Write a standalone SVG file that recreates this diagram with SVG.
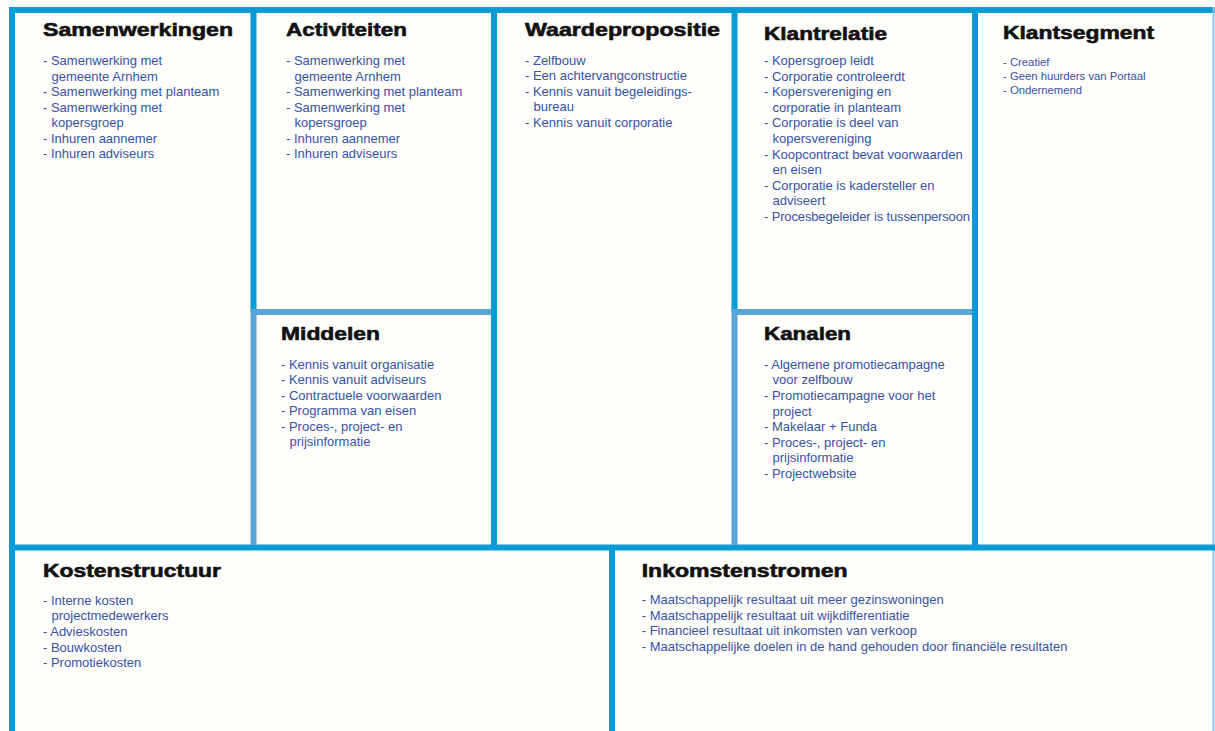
<svg xmlns="http://www.w3.org/2000/svg" width="1215" height="731" viewBox="0 0 1215 731">
<style>
.bg{fill:#fdfdfa}
.d{stroke:#0a9bd6;stroke-width:6;fill:none}
.l{stroke:#5ba5d6;stroke-width:6;fill:none}
.t{font-family:"Liberation Sans",Arial,sans-serif;font-weight:bold;font-size:19px;fill:#111;stroke:#111;stroke-width:0.6px}
.b{font-family:"Liberation Sans",Arial,sans-serif;font-size:13px;fill:#3853a3}
.s{font-family:"Liberation Sans",Arial,sans-serif;font-size:11.3px;fill:#3853a3}
</style>
<rect class="bg" x="0" y="0" width="1215" height="731"/>
<g id="frame">
<line class="d" x1="9" y1="10" x2="1215" y2="10"/>
<line class="d" x1="12" y1="7" x2="12" y2="731"/>
<line stroke="#8cc8e8" stroke-width="2" x1="1213.5" y1="7" x2="1213.5" y2="731"/>
<line class="d" x1="9" y1="547.5" x2="1215" y2="547.5"/>
<line class="d" x1="253.5" y1="7" x2="253.5" y2="312"/>
<line class="l" x1="253.5" y1="309" x2="253.5" y2="545"/>
<line class="l" x1="253.5" y1="312" x2="492" y2="312"/>
<line class="d" x1="494" y1="7" x2="494" y2="545"/>
<line class="d" x1="734.5" y1="7" x2="734.5" y2="312"/>
<line class="l" x1="734.5" y1="309" x2="734.5" y2="545"/>
<line class="l" x1="734.5" y1="312" x2="972" y2="312"/>
<line class="d" x1="975" y1="7" x2="975" y2="545"/>
<line class="d" x1="612" y1="545" x2="612" y2="731"/>
</g>
<g id="samenwerkingen">
<text class="t" x="43" y="36" textLength="190" lengthAdjust="spacingAndGlyphs">Samenwerkingen</text>
<text class="b" x="43" y="65">- Samenwerking met</text>
<text class="b" x="51.5" y="80.5">gemeente Arnhem</text>
<text class="b" x="43" y="96">- Samenwerking met planteam</text>
<text class="b" x="43" y="111.5">- Samenwerking met</text>
<text class="b" x="51.5" y="127">kopersgroep</text>
<text class="b" x="43" y="142.5">- Inhuren aannemer</text>
<text class="b" x="43" y="158">- Inhuren adviseurs</text>
</g>
<g id="activiteiten">
<text class="t" x="286" y="36" textLength="121" lengthAdjust="spacingAndGlyphs">Activiteiten</text>
<text class="b" x="286" y="65">- Samenwerking met</text>
<text class="b" x="294.5" y="80.5">gemeente Arnhem</text>
<text class="b" x="286" y="96">- Samenwerking met planteam</text>
<text class="b" x="286" y="111.5">- Samenwerking met</text>
<text class="b" x="294.5" y="127">kopersgroep</text>
<text class="b" x="286" y="142.5">- Inhuren aannemer</text>
<text class="b" x="286" y="158">- Inhuren adviseurs</text>
</g>
<g id="middelen">
<text class="t" x="281" y="340" textLength="99" lengthAdjust="spacingAndGlyphs">Middelen</text>
<text class="b" x="281" y="368.5">- Kennis vanuit organisatie</text>
<text class="b" x="281" y="384">- Kennis vanuit adviseurs</text>
<text class="b" x="281" y="399.6">- Contractuele voorwaarden</text>
<text class="b" x="281" y="415.2">- Programma van eisen</text>
<text class="b" x="281" y="430.8">- Proces-, project- en</text>
<text class="b" x="289.5" y="446.4">prijsinformatie</text>
</g>
<g id="waardepropositie">
<text class="t" x="525" y="36" textLength="195" lengthAdjust="spacingAndGlyphs">Waardepropositie</text>
<text class="b" x="525" y="64.5">- Zelfbouw</text>
<text class="b" x="525" y="80">- Een achtervangconstructie</text>
<text class="b" x="525" y="95.5">- Kennis vanuit begeleidings-</text>
<text class="b" x="533.5" y="111">bureau</text>
<text class="b" x="525" y="126.5">- Kennis vanuit corporatie</text>
</g>
<g id="klantrelatie">
<text class="t" x="764" y="39.5" textLength="123" lengthAdjust="spacingAndGlyphs">Klantrelatie</text>
<text class="b" x="764" y="65">- Kopersgroep leidt</text>
<text class="b" x="764" y="80.6">- Corporatie controleerdt</text>
<text class="b" x="764" y="96.2">- Kopersvereniging en</text>
<text class="b" x="772.5" y="111.8">corporatie in planteam</text>
<text class="b" x="764" y="127.4">- Corporatie is deel van</text>
<text class="b" x="772.5" y="143">kopersvereniging</text>
<text class="b" x="764" y="158.6">- Koopcontract bevat voorwaarden</text>
<text class="b" x="772.5" y="174.2">en eisen</text>
<text class="b" x="764" y="189.8">- Corporatie is kadersteller en</text>
<text class="b" x="772.5" y="205.4">adviseert</text>
<text class="b" x="764" y="221" textLength="206">- Procesbegeleider is tussenpersoon</text>
</g>
<g id="kanalen">
<text class="t" x="764" y="340" textLength="87" lengthAdjust="spacingAndGlyphs">Kanalen</text>
<text class="b" x="764" y="368.8">- Algemene promotiecampagne</text>
<text class="b" x="772.5" y="384.4">voor zelfbouw</text>
<text class="b" x="764" y="400">- Promotiecampagne voor het</text>
<text class="b" x="772.5" y="415.6">project</text>
<text class="b" x="764" y="431.2">- Makelaar + Funda</text>
<text class="b" x="764" y="446.8">- Proces-, project- en</text>
<text class="b" x="772.5" y="462.4">prijsinformatie</text>
<text class="b" x="764" y="478">- Projectwebsite</text>
</g>
<g id="klantsegment">
<text class="t" x="1003" y="38.5" textLength="151" lengthAdjust="spacingAndGlyphs">Klantsegment</text>
<text class="s" x="1003" y="66">- Creatief</text>
<text class="s" x="1003" y="80">- Geen huurders van Portaal</text>
<text class="s" x="1003" y="94">- Ondernemend</text>
</g>
<g id="kostenstructuur">
<text class="t" x="43" y="577" textLength="178" lengthAdjust="spacingAndGlyphs">Kostenstructuur</text>
<text class="b" x="43" y="604.5">- Interne kosten</text>
<text class="b" x="51.5" y="620.2">projectmedewerkers</text>
<text class="b" x="43" y="635.9">- Advieskosten</text>
<text class="b" x="43" y="651.6">- Bouwkosten</text>
<text class="b" x="43" y="667.3">- Promotiekosten</text>
</g>
<g id="inkomstenstromen">
<text class="t" x="641.7" y="577.3" textLength="206" lengthAdjust="spacingAndGlyphs">Inkomstenstromen</text>
<text class="b" x="641.7" y="604">- Maatschappelijk resultaat uit meer gezinswoningen</text>
<text class="b" x="641.7" y="619.6">- Maatschappelijk resultaat uit wijkdifferentiatie</text>
<text class="b" x="641.7" y="635.2">- Financieel resultaat uit inkomsten van verkoop</text>
<text class="b" x="641.7" y="650.8">- Maatschappelijke doelen in de hand gehouden door financiële resultaten</text>
</g>
</svg>
